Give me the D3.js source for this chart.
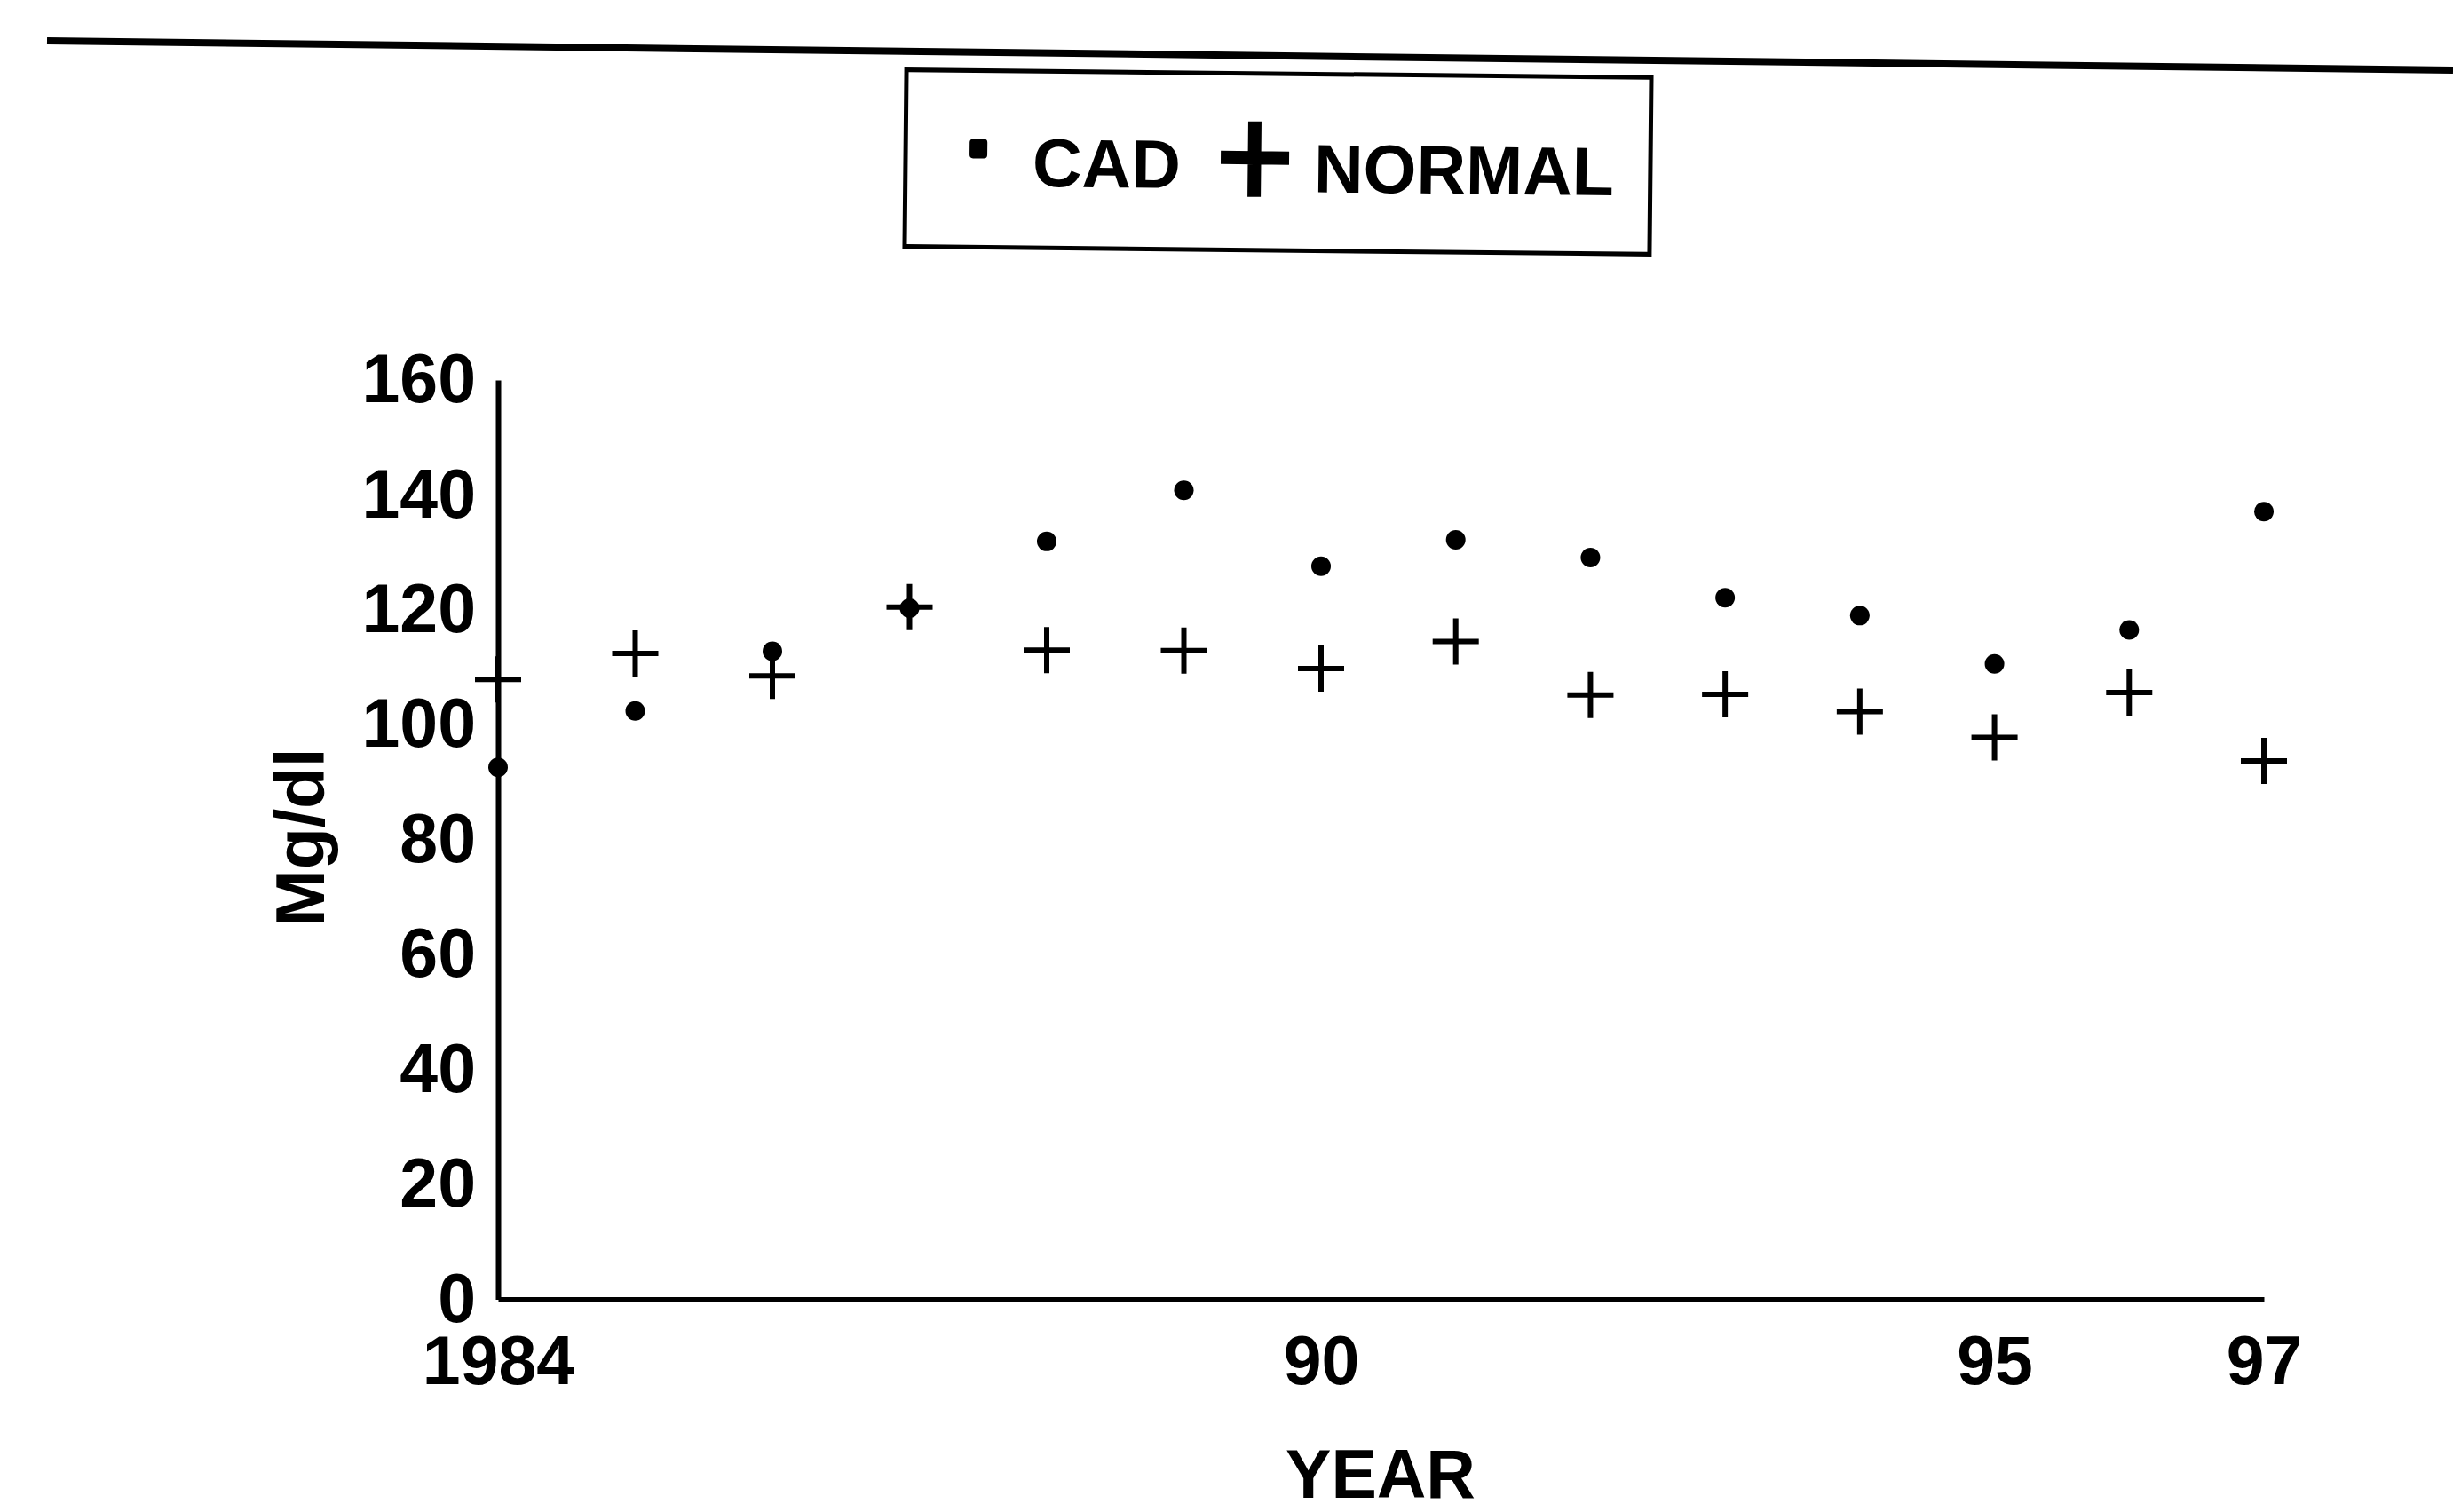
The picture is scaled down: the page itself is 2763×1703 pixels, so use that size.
<!DOCTYPE html>
<html>
<head>
<meta charset="utf-8">
<script src="https://cdnjs.cloudflare.com/ajax/libs/d3/7.8.5/d3.min.js"></script>
<style>
  body { margin: 0; background: #fff; }
  text { font-family: "Liberation Sans", Arial, Helvetica, sans-serif; font-weight: bold; fill: #000; }
</style>
</head>
<body>
<div class="chart"></div>
<script>
// Data
var years = [1984, 1985, 1986, 1987, 1988, 1989, 1990, 1991, 1992, 1993, 1994, 1995, 1996, 1997];
var cadValues = [92.6, 102.4, 112.8, 120.3, 131.9, 140.8, 127.6, 132.2, 129.1, 122.1, 119.0, 110.6, 116.5, 137.1];
var normalValues = [107.9, 112.4, 108.5, 120.5, 113.0, 112.9, 109.8, 114.5, 105.2, 105.3, 102.3, 97.8, 105.6, 93.7];
var xTickValues = [1984, 1990, 1995, 1997];
var xTickLabels = ["1984", "90", "95", "97"];
var yTickValues = [0, 20, 40, 60, 80, 100, 120, 140, 160];
var legendLabels = ["CAD", "NORMAL"];

var svgWidth = 2763;
var svgHeight = 1703;

var fontSize = 77;

var svg = d3
    .select(".chart")
    .append("svg")
    .attr("width", svgWidth)
    .attr("height", svgHeight);

// Scales (the printed year spacing is a little uneven, so pin 1990 too)
var x = d3.scaleLinear()
    .domain([1984, 1990, 1997])
    .range([561, 1488, 2550]);

var y = d3.scaleLinear()
    .domain([0, 160])
    .range([1463.5, 428]);

// Rule across the top of the page
svg.append("line")
    .attr("x1", 53)
    .attr("y1", 46)
    .attr("x2", svgWidth)
    .attr("y2", 79)
    .attr("stroke", "#000")
    .attr("stroke-width", 8);

// Legend box
var legend = svg.append("g")
    .attr("transform", "rotate(0.6, 1440, 182)");

legend.append("rect")
    .attr("x", 1020)
    .attr("y", 83)
    .attr("width", 839)
    .attr("height", 199)
    .attr("fill", "none")
    .attr("stroke", "#000")
    .attr("stroke-width", 5);

legend.append("rect")
    .attr("x", 1092)
    .attr("y", 160)
    .attr("width", 20)
    .attr("height", 22)
    .attr("rx", 4)
    .attr("fill", "#000");

legend.append("text")
    .attr("x", 1163)
    .attr("y", 213)
    .style("font-size", fontSize + "px")
    .text(legendLabels[0]);

legend.append("path")
    .attr("d", "M1375,178H1452M1413,137V222")
    .attr("stroke", "#000")
    .attr("stroke-width", 15)
    .attr("fill", "none");

legend.append("text")
    .attr("x", 1480)
    .attr("y", 216)
    .style("font-size", fontSize + "px")
    .text(legendLabels[1]);

// X-axis
var xAxis = d3.axisBottom(x)
    .tickValues(xTickValues)
    .tickFormat(function(d, i) { return xTickLabels[i]; })
    .tickSize(0)
    .tickSizeOuter(0)
    .tickPadding(41);

var gx = svg.append("g")
    .attr("transform", "translate(0," + y(0) + ")")
    .call(xAxis);

gx.select(".domain")
    .attr("stroke", "#000")
    .attr("stroke-width", 6);

gx.selectAll("text")
    .attr("font-family", null)
    .style("font-size", fontSize + "px");

// Y-axis
var yAxis = d3.axisLeft(y)
    .tickValues(yTickValues)
    .tickSize(0)
    .tickSizeOuter(0)
    .tickPadding(25);

var gy = svg.append("g")
    .attr("transform", "translate(" + x(1984) + ",0)")
    .call(yAxis);

gy.select(".domain")
    .attr("stroke", "#000")
    .attr("stroke-width", 6);

gy.selectAll("text")
    .attr("font-family", null)
    .style("font-size", fontSize + "px");

// Axis titles
svg.append("text")
    .attr("transform", "translate(365,943) rotate(-90)")
    .style("text-anchor", "middle")
    .style("font-size", fontSize + "px")
    .text("Mg/dl");

svg.append("text")
    .attr("x", 1555)
    .attr("y", 1687)
    .style("text-anchor", "middle")
    .style("font-size", fontSize + "px")
    .text("YEAR");

// Markers: NORMAL crosses
svg.selectAll(".normal")
    .data(normalValues)
    .enter()
    .append("path")
    .attr("class", "normal")
    .attr("transform", function(d, i) {
        return "translate(" + x(years[i]) + "," + y(d) + ")";
    })
    .attr("d", "M-26,0H26M0,-26V26")
    .attr("stroke", "#000")
    .attr("stroke-width", 6)
    .attr("fill", "none");

// Markers: CAD dots
svg.selectAll(".cad")
    .data(cadValues)
    .enter()
    .append("circle")
    .attr("class", "cad")
    .attr("cx", function(d, i) { return x(years[i]); })
    .attr("cy", function(d) { return y(d); })
    .attr("r", 11)
    .attr("fill", "#000");
</script>
</body>
</html>
